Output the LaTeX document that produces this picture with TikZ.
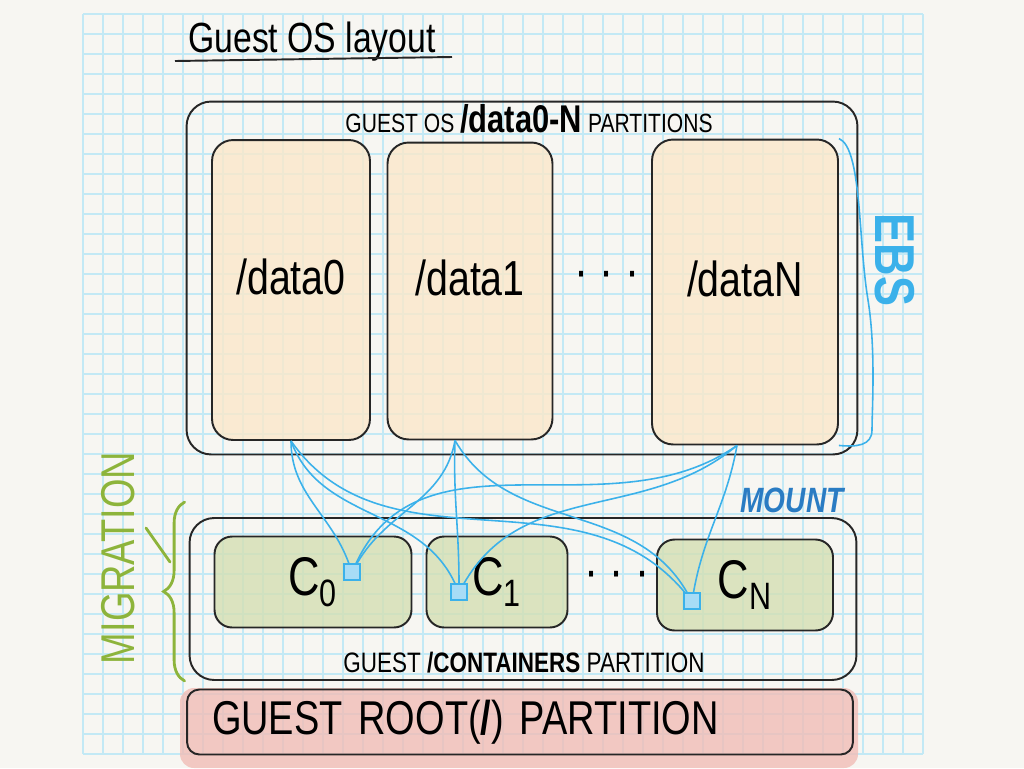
\documentclass[tikz,border=0pt]{standalone}
\usepackage{fontspec}
\usepackage{tikz}
\usetikzlibrary{positioning,decorations.pathreplacing}
\newfontfamily\handfont[FakeStretch=0.8]{Liberation Sans}
\definecolor{PaperWhite}{HTML}{F7F6F2}
\definecolor{GridBlue}{HTML}{C3E9F5}
\definecolor{DataYellow}{HTML}{FBE8CA}
\definecolor{CtGreen}{HTML}{D4DFB3}
\definecolor{RootPink}{HTML}{F1BDB6}
\definecolor{MountBlue}{HTML}{3BB1EA}
\definecolor{MountDark}{HTML}{2A7CC3}
\definecolor{MigGreen}{HTML}{8DB43B}

\begin{document}
\begin{tikzpicture}[
  x=0.02cm, y=-0.02cm,
  inkline/.style={draw=black!85,line width=1.1pt},
  gridline/.style={draw=GridBlue,line width=0.7pt},
  partbox/.style={inkline,rounded corners=14pt},
  databox/.style={partbox,rounded corners=12pt,fill=DataYellow,fill opacity=0.8,text opacity=1,minimum height=6cm,text depth=0.55cm,font=\handfont\fontsize{28}{30}\selectfont},
  ctbox/.style={partbox,rounded corners=10pt,fill=CtGreen,fill opacity=0.8,text opacity=1,minimum height=1.82cm,font=\handfont\fontsize{31}{33}\selectfont},
  rootbox/.style={partbox,rounded corners=7pt,minimum width=13.32cm,minimum height=1.3cm,inner xsep=0.5cm,text width=12.32cm,align=left,font=\handfont\fontsize{27}{29}\selectfont},
  capslabel/.style={font=\handfont\fontsize{15}{17}\selectfont},
  dotslabel/.style={font=\handfont\fontsize{30}{32}\selectfont},
  mountbox/.style={draw=MountBlue,fill=MountBlue!45,line width=0.8pt,minimum size=0.32cm,inner sep=0pt},
  mountline/.style={draw=MountBlue,line width=0.9pt},
  migline/.style={draw=MigGreen,line width=1.6pt,line cap=round}
]
\useasboundingbox[fill=PaperWhite] (0,0) rectangle (1024,768);
\foreach \gx in {83,103,...,923} \draw[gridline] (\gx,14) -- (\gx,754);
\foreach \gy in {14,34,...,754} \draw[gridline] (83,\gy) -- (923,\gy);

\node[anchor=base,font=\handfont\fontsize{24}{26}\selectfont] (title) at (312,52) {Guest OS layout};
\draw[inkline] (175,61) -- (452,57);

\node[partbox,minimum width=13.42cm,minimum height=7.06cm] (os) at (522,278) {};
\node[anchor=base,capslabel] (oslabel) at (529,132) {GUEST OS \textbf{\fontsize{22}{24}\selectfont /data0-N} PARTITIONS};
\node[databox,minimum width=3.16cm] (d0) at (291,290) {/data0};
\node[databox,minimum width=3.3cm,minimum height=5.94cm] (d1) at (470,291) {/data1};
\node[databox,minimum width=3.72cm,minimum height=6.1cm] (dN) at (745,292) {/dataN};
\node[dotslabel] (ddots) at (607,280) {· · ·};

\node[partbox,minimum width=13.34cm,minimum height=3.24cm] (ct) at (523,599) {};
\node[anchor=base,capslabel,font=\handfont\fontsize{16}{18}\selectfont] (ctlabel) at (524,672) {GUEST \textbf{/CONTAINERS} PARTITION};
\node[ctbox,minimum width=3.94cm] (c0) at (313,582) {C\textsubscript{0}};
\node[ctbox,minimum width=2.82cm] (c1) at (497,582) {C\textsubscript{1}};
\node[ctbox,minimum width=3.52cm] (cN) at (745,585) {C\textsubscript{N}};
\node[dotslabel] (cdots) at (617,580) {· · ·};

\fill[RootPink,fill opacity=0.8,rounded corners=8pt] (180,688) rectangle (858,768);
\node[rootbox] (root) at (520,722) {GUEST ROOT(\textbf{/}) PARTITION};

\node[mountbox] (m0) at (352,572) {};
\node[mountbox] (m1) at (459,592) {};
\node[mountbox] (m2) at (692,601) {};
\draw[mountline] (d0.south) to[out=-90,in=110] (m0);
\draw[mountline] (d0.south) to[out=-70,in=115] (m1);
\draw[mountline] (d0.south) to[out=-55,in=130] (m2);
\draw[mountline] ([xshift=-0.3cm]d1.south) to[out=-100,in=60] (m0);
\draw[mountline] ([xshift=-0.3cm]d1.south) to[out=-92,in=90] (m1);
\draw[mountline] ([xshift=-0.3cm]d1.south) to[out=-60,in=120] (m2);
\draw[mountline] ([xshift=-0.16cm]dN.south) to[out=-145,in=65] (m0);
\draw[mountline] ([xshift=-0.16cm]dN.south) to[out=-140,in=60] (m1);
\draw[mountline] ([xshift=-0.16cm]dN.south) to[out=-100,in=80] (m2);
\node[font=\handfont\bfseries\itshape\fontsize{20}{22}\selectfont,text=MountDark] (mountlabel) at (792,500) {MOUNT};

\node[rotate=-90,font=\handfont\bfseries\fontsize{32}{34}\selectfont,text=MountBlue] (ebs) at (895,260) {EBS};
\draw[mountline] (dN.north east) .. controls (862,148) and (858,240) .. (868,300) .. controls (876,350) and (872,410) .. (872,430) .. controls (872,446) and (856,447) .. (dN.south east);

\node[rotate=90,font=\handfont\fontsize{27}{29}\selectfont,text=MigGreen] (mig) at (118,558) {MIGRATION};
\draw[migline] (146,528) -- (170,562);
\draw[migline,decorate,decoration={brace,amplitude=0.42cm}] ([xshift=-0.08cm]ct.south west) -- ([xshift=-0.08cm,yshift=0.3cm]ct.north west);
\end{tikzpicture}
\end{document}
